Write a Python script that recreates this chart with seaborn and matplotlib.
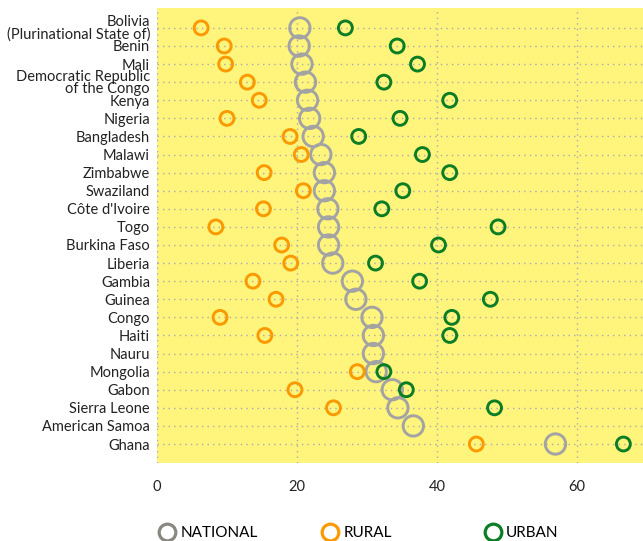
import matplotlib.pyplot as plt
import pandas as pd
import seaborn as sns
from matplotlib.lines import Line2D

countries = [
    "Bolivia\n(Plurinational State of)", "Benin", "Mali",
    "Democratic Republic\nof the Congo", "Kenya", "Nigeria", "Bangladesh",
    "Malawi", "Zimbabwe", "Swaziland", "Côte d'Ivoire", "Togo",
    "Burkina Faso", "Liberia", "Gambia", "Guinea", "Congo", "Haiti", "Nauru",
    "Mongolia", "Gabon", "Sierra Leone", "American Samoa", "Ghana",
]
national = [20.4, 20.3, 20.7, 21.2, 21.5, 21.8, 22.3, 23.4, 23.9, 23.9, 24.4,
            24.5, 24.5, 25.1, 27.9, 28.4, 30.7, 30.9, 30.9, 31.3, 33.6, 34.4,
            36.6, 56.9]
rural = [6.3, 9.6, 9.8, 12.9, 14.6, 10.0, 19.0, 20.6, 15.3, 20.9, 15.2, 8.4,
         17.8, 19.1, 13.7, 17.0, 9.0, 15.4, None, 28.6, 19.7, 25.2, None, 45.6]
urban = [26.9, 34.3, 37.2, 32.4, 41.8, 34.7, 28.8, 37.9, 41.8, 35.1, 32.1,
         48.7, 40.2, 31.2, 37.5, 47.6, 42.1, 41.8, None, 32.4, 35.6, 48.2,
         None, 66.6]

df = pd.DataFrame({"country": countries, "National": national,
                   "Rural": rural, "Urban": urban})

BG = "#fff47c"
GRAY = "#a3a3a3"
ORANGE = "#fa9a00"
GREEN = "#0b7d25"

plt.rcParams["font.family"] = ["Lato", "DejaVu Sans"]

fig = plt.figure(figsize=(6.43, 5.41), dpi=100)
ax = fig.add_axes([157 / 643, 78 / 541, 486 / 643, 455 / 541])
ax.set_facecolor(BG)

series = [("National", GRAY, 215), ("Rural", ORANGE, 100), ("Urban", GREEN, 100)]
for col, color, size in series:
    sub = df.dropna(subset=[col])
    sns.scatterplot(data=sub, x=col, y="country", ax=ax, s=size,
                    color=color, facecolor="none", edgecolor=color,
                    linewidth=2.1, zorder=3, legend=False)

ax.set_xlim(0, 69.4)
ax.set_ylim(24.05, -1.1)
ax.set_xticks([0, 20, 40, 60])
ax.set_xlabel("")
ax.set_ylabel("")
ax.grid(True, color="#a9a9b3", linestyle=(0, (1, 3)), linewidth=1.0)
ax.set_axisbelow(True)
for s in ax.spines.values():
    s.set_visible(False)
ax.tick_params(axis="both", length=0, labelsize=10.5, colors="#222222")
ax.tick_params(axis="x", pad=12)
ax.tick_params(axis="y", pad=5)
for lbl in ax.get_yticklabels():
    lbl.set_linespacing(0.85)

legend_items = [("NATIONAL", "#8a8781", 158), ("RURAL", ORANGE, 321),
                ("URBAN", GREEN, 484)]
for label, color, xpx in legend_items:
    h = Line2D([], [], marker="o", linestyle="none", markersize=12,
               markerfacecolor="none", markeredgecolor=color,
               markeredgewidth=2.3)
    fig.legend(handles=[h], labels=[label], loc="center left",
               bbox_to_anchor=(xpx / 643, 8 / 541), frameon=False,
               handletextpad=0.25, handlelength=1.2, borderpad=0,
               borderaxespad=0, prop={"size": 11})

fig.savefig("out.png", dpi=100, facecolor="white")
